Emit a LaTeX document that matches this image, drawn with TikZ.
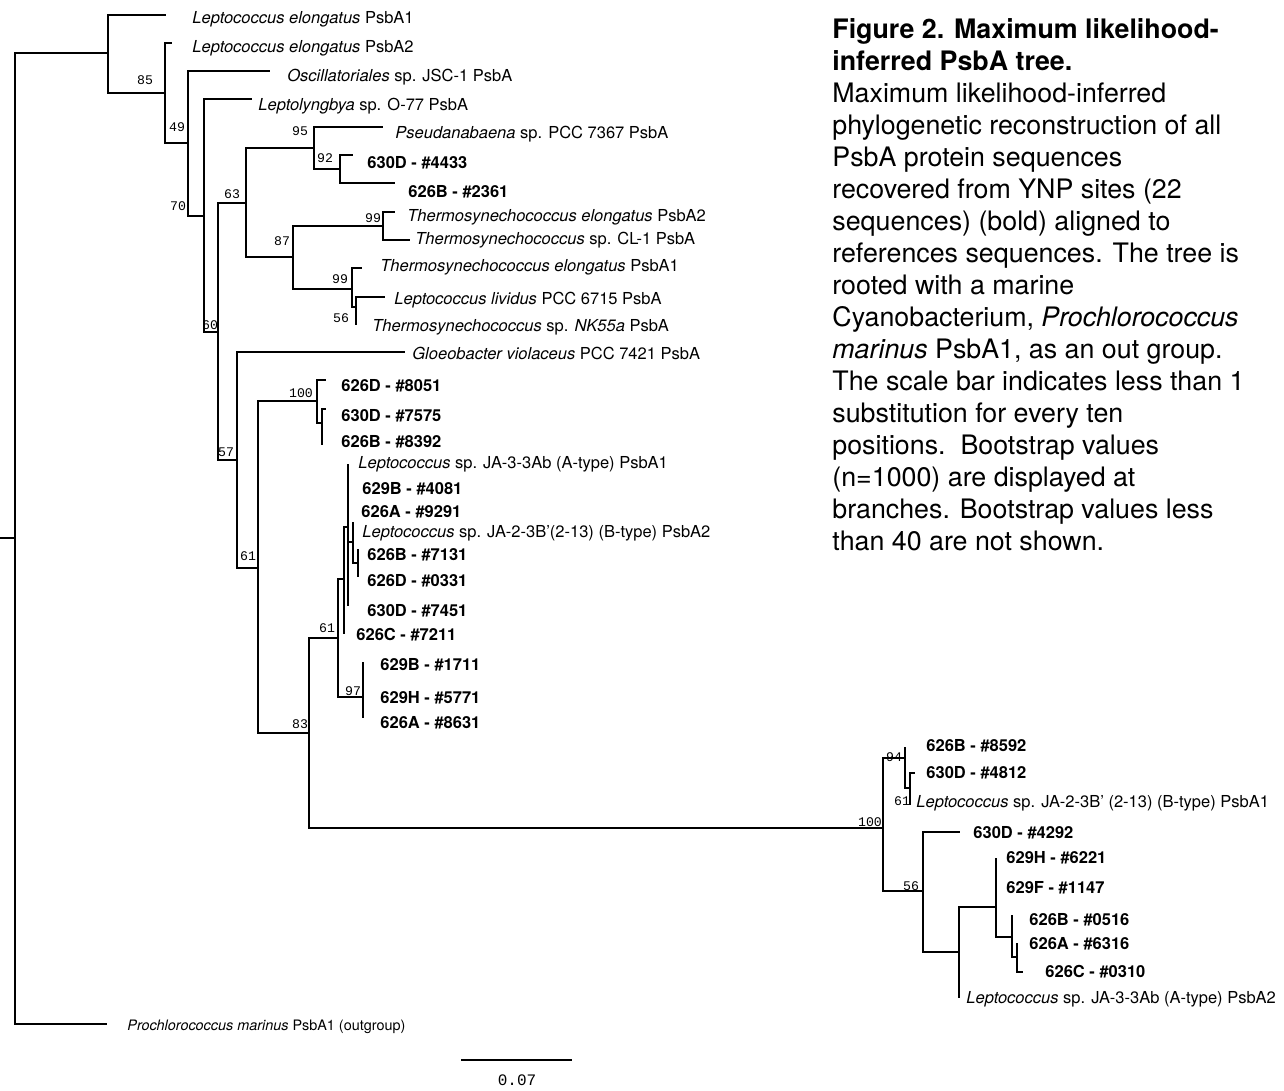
\documentclass[tikz,border=0pt]{standalone}
\usepackage{fontspec}
\setmainfont{TeX Gyre Heros}
\newfontfamily\bootfont{Liberation Mono}

\tikzset{
  branch/.style={line width=0.75pt},
  taxon/.style={anchor=base west, inner sep=0pt, font=\fontsize{8.25}{10}\selectfont},
  sample/.style={taxon, font=\fontsize{8.25}{10}\selectfont\bfseries},
  outgrp/.style={taxon, font=\fontsize{7.2}{9}\selectfont},
  boot/.style={inner sep=0pt, font=\bootfont\fontsize{6.6}{8}\selectfont},
  scalelab/.style={inner sep=0pt, font=\bootfont\fontsize{8}{10}\selectfont},
  caption/.style={anchor=north west, align=left, inner sep=0pt, font=\fontsize{13.4}{16}\selectfont}
}

\begin{document}
\begin{tikzpicture}[x=0.5pt, y=-0.5pt]

        \path[use as bounding box, fill=white] (0,0) rectangle (1284,1091);

        % Internal nodes
        \coordinate (base) at (0,538);
        \coordinate (root) at (15,538);
        \coordinate (nA) at (108,53);
        \coordinate (nB) at (165,93);
        \coordinate (nC) at (188,143);
        \coordinate (nD) at (204,216);
        \coordinate (nE) at (218,332);
        \coordinate (nF) at (246,203);
        \coordinate (nH) at (314,148);
        \coordinate (nJ) at (340,169);
        \coordinate (nI) at (293,257);
        \coordinate (nK) at (383,226);
        \coordinate (nL) at (352,289);
        \coordinate (nM) at (356,307);
        \coordinate (nG) at (237,460);
        \coordinate (nN) at (258,568);
        \coordinate (nO) at (317,401);
        \coordinate (nQ) at (322,423);
        \coordinate (nP) at (309,733);
        \coordinate (nR) at (338,638);
        \coordinate (nT) at (344,579);
        \coordinate (nV) at (348,527);
        \coordinate (nW) at (353,542);
        \coordinate (nX) at (358,563);
        \coordinate (nU) at (363,697);
        \coordinate (nS) at (883,828);
        \coordinate (nY) at (905,758);
        \coordinate (nAA) at (910,788);
        \coordinate (nZ) at (923,891);
        \coordinate (nAB) at (959,952);
        \coordinate (nAC) at (996,907);
        \coordinate (nAD) at (1012,937);
        \coordinate (nAE) at (1017,957);

        % Branch ends
        \coordinate (e1) at (166,15);
        \coordinate (e2) at (172,43);
        \coordinate (e3) at (270,71);
        \coordinate (e4) at (252,99);
        \coordinate (e5) at (383,127);
        \coordinate (e6) at (353,155);
        \coordinate (e7) at (395,183);
        \coordinate (e8) at (395,212);
        \coordinate (e9) at (410,240);
        \coordinate (e10) at (362,268);
        \coordinate (e11) at (385,297);
        \coordinate (e12) at (357,324);
        \coordinate (e13) at (405,352);
        \coordinate (e14) at (326,380);
        \coordinate (e15) at (326,409);
        \coordinate (e16) at (322,445);
        \coordinate (e17) at (348,464);
        \coordinate (e18) at (348,488);
        \coordinate (e19) at (348,510);
        \coordinate (e20) at (353,522);
        \coordinate (e21) at (358,549);
        \coordinate (e22) at (358,577);
        \coordinate (e23) at (348,606);
        \coordinate (e24) at (344,634);
        \coordinate (e25) at (363,662);
        \coordinate (e26) at (363,697);
        \coordinate (e27) at (363,718);
        \coordinate (e28) at (905,747);
        \coordinate (e29) at (915,773);
        \coordinate (e30) at (910,805);
        \coordinate (e31) at (960,832);
        \coordinate (e32) at (996,858);
        \coordinate (e33) at (996,887);
        \coordinate (e34) at (1012,915);
        \coordinate (e35) at (1017,943);
        \coordinate (e36) at (1023,972);
        \coordinate (e37) at (959,998);
        \coordinate (e38) at (107,1024);

        % Branches
        \draw[branch] (base) -- (root);
        \foreach \p/\c in {root/nA, root/e38, nA/e1, nA/nB, nB/e2, nB/nC,
          nC/e3, nC/nD, nD/e4, nD/nE, nE/nF, nE/nG, nF/nH, nF/nI,
          nH/e5, nH/nJ, nJ/e6, nJ/e7, nI/nK, nI/nL, nK/e8, nK/e9,
          nL/e10, nL/nM, nM/e11, nM/e12, nG/e13, nG/nN, nN/nO, nN/nP,
          nO/e14, nO/nQ, nQ/e15, nQ/e16, nP/nR, nP/nS, nR/nT, nR/nU,
          nT/nV, nT/e24, nV/e17, nV/e18, nV/e19, nV/nW, nV/e23,
          nW/e20, nW/nX, nX/e21, nX/e22, nU/e25, nU/e26, nU/e27,
          nS/nY, nS/nZ, nY/e28, nY/nAA, nAA/e29, nAA/e30,
          nZ/e31, nZ/nAB, nAB/nAC, nAB/e37, nAC/e32, nAC/e33, nAC/nAD,
          nAD/e34, nAD/nAE, nAE/e35, nAE/e36}
          \draw[branch] (\p) |- (\c);

        % Taxa
        \node[taxon] (t1) at (192,24) {\textit{Leptococcus elongatus} PsbA1};
        \node[taxon] (t2) at (192,53) {\textit{Leptococcus elongatus} PsbA2};
        \node[taxon] (t3) at (287,82) {\textit{Oscillatoriales} sp. JSC-1 PsbA};
        \node[taxon] (t4) at (258,111) {\textit{Leptolyngbya} sp. O-77 PsbA};
        \node[taxon] (t5) at (395,139) {\textit{Pseudanabaena} sp. PCC 7367 PsbA};
        \node[sample] (t6) at (367,169) {630D - \#4433};
        \node[sample] (t7) at (408,198) {626B - \#2361};
        \node[taxon] (t8) at (407,222) {\textit{Thermosynechococcus elongatus} PsbA2};
        \node[taxon] (t9) at (415,244) {\textit{Thermosynechococcus} sp. CL-1 PsbA};
        \node[taxon] (t10) at (380,271) {\textit{Thermosynechococcus elongatus} PsbA1};
        \node[taxon] (t11) at (394,304) {\textit{Leptococcus lividus} PCC 6715 PsbA};
        \node[taxon] (t12) at (372,331) {\textit{Thermosynechococcus} sp. \textit{NK55a} PsbA};
        \node[taxon] (t13) at (412,359) {\textit{Gloeobacter violaceus} PCC 7421 PsbA};
        \node[sample] (t14) at (341,391) {626D - \#8051};
        \node[sample] (t15) at (341,421) {630D - \#7575};
        \node[sample] (t16) at (341,447) {626B - \#8392};
        \node[taxon] (t17) at (358,468) {\textit{Leptococcus} sp. JA-3-3Ab (A-type) PsbA1};
        \node[sample] (t18) at (362,494) {629B - \#4081};
        \node[sample] (t19) at (361,517) {626A - \#9291};
        \node[taxon] (t20) at (362,537) {\textit{Leptococcus} sp. JA-2-3B'(2-13) (B-type) PsbA2};
        \node[sample] (t21) at (367,560) {626B - \#7131};
        \node[sample] (t22) at (367,586) {626D - \#0331};
        \node[sample] (t23) at (367,616) {630D - \#7451};
        \node[sample] (t24) at (356,640) {626C - \#7211};
        \node[sample] (t25) at (380,670) {629B - \#1711};
        \node[sample] (t26) at (380,703) {629H - \#5771};
        \node[sample] (t27) at (380,728) {626A - \#8631};
        \node[sample] (t28) at (926,751) {626B - \#8592};
        \node[sample] (t29) at (926,778) {630D - \#4812};
        \node[taxon] (t30) at (916,807) {\textit{Leptococcus} sp. JA-2-3B' (2-13) (B-type) PsbA1};
        \node[sample] (t31) at (973,838) {630D - \#4292};
        \node[sample] (t32) at (1006,863) {629H - \#6221};
        \node[sample] (t33) at (1006,893) {629F - \#1147};
        \node[sample] (t34) at (1029,925) {626B - \#0516};
        \node[sample] (t35) at (1029,949) {626A - \#6316};
        \node[sample] (t36) at (1045,977) {626C - \#0310};
        \node[taxon] (t37) at (966,1003) {\textit{Leptococcus} sp. JA-3-3Ab (A-type) PsbA2};
        \node[outgrp] (t38) at (127,1030) {\textit{Prochlorococcus marinus} PsbA1 (outgroup)};

        % Bootstrap values
        \foreach \v/\x/\y [count=\i] in {85/145/80, 49/177/127, 70/178/206,
          63/232/194, 95/300/131, 92/325/158, 99/373/218, 87/282/241,
          99/340/279, 56/341/318, 60/210/325, 57/226/452, 100/301/393,
          61/248/556, 61/327/628, 97/353/691, 83/300/724, 100/870/822,
          94/894/757, 61/902/801, 56/911/886}
          \node[boot] (b\i) at (\x,\y) {\v};

        % Scale bar
        \coordinate (sbL) at (461,1060);
        \coordinate (sbR) at (572,1060);
        \draw[branch] (sbL) -- (sbR);
        \node[scalelab] (sblab) at (517,1080) {0.07};

        % Caption
        \node[caption] (cap) at (832,18.5) {\textbf{Figure 2. Maximum likelihood-}\\
          \textbf{inferred PsbA tree.}\\
          Maximum likelihood-inferred\\
          phylogenetic reconstruction of all\\
          PsbA protein sequences\\
          recovered from YNP sites (22\\
          sequences) (bold) aligned to\\
          references sequences. The tree is\\
          rooted with a marine\\
          Cyanobacterium, \textit{Prochlorococcus}\\
          \textit{marinus} PsbA1, as an out group.\\
          The scale bar indicates less than 1\\
          substitution for every ten\\
          positions.\ \ Bootstrap values\\
          (n=1000) are displayed at\\
          branches. Bootstrap values less\\
          than 40 are not shown.};
    \end{tikzpicture}
\end{document}
